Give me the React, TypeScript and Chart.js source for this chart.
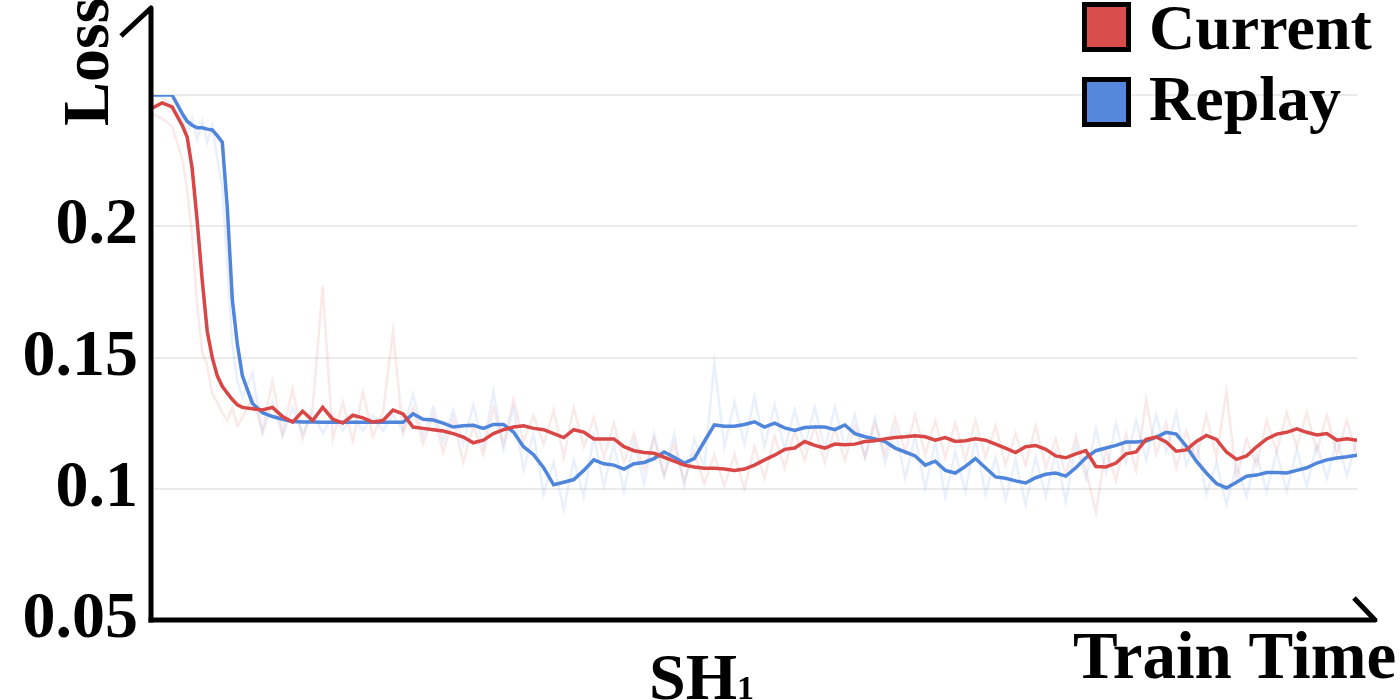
import React, { useEffect, useRef } from 'react';
import { Chart, registerables } from 'chart.js';

Chart.register(...registerables);

// ---- data (training-step index on x, loss on y) ----
const steps = [
  0, 1, 2, 3, 3.5, 4, 4.5, 5, 5.5, 6, 6.5, 7, 7.5, 8, 8.5, 9,
  10, 11, 12, 13, 14, 15, 16, 17, 18, 19,
  20, 21, 22, 23, 24, 25, 26, 27, 28, 29,
  30, 31, 32, 33, 34, 35, 36, 37, 38, 39,
  40, 41, 42, 43, 44, 45, 46, 47, 48, 49,
  50, 51, 52, 53, 54, 55, 56, 57, 58, 59,
  60, 61, 62, 63, 64, 65, 66, 67, 68, 69,
  70, 71, 72, 73, 74, 75, 76, 77, 78, 79,
  80, 81, 82, 83, 84, 85, 86, 87, 88, 89,
  90, 91, 92, 93, 94, 95, 96, 97, 98, 99,
  100, 101, 102, 103, 104, 105, 106, 107, 108, 109,
  110, 111, 112, 113, 114, 115, 116, 117, 118, 119,
  120,
];

const currentSmooth = [
  0.245, 0.247, 0.2455, 0.2385, 0.234, 0.222, 0.202, 0.1795, 0.16, 0.15, 0.143, 0.139, 0.1364, 0.134, 0.132, 0.131,
  0.1305, 0.13, 0.131, 0.1275, 0.1254, 0.1295, 0.126, 0.131, 0.1265, 0.125,
  0.128, 0.127, 0.1254, 0.126, 0.13, 0.1285, 0.1235, 0.123, 0.1225, 0.122,
  0.121, 0.1197, 0.1175, 0.1185, 0.121, 0.1225, 0.1235, 0.124, 0.123, 0.1225,
  0.121, 0.1195, 0.1225, 0.1216, 0.119, 0.119, 0.119, 0.116, 0.1145, 0.1138,
  0.1135, 0.112, 0.1105, 0.109, 0.1083, 0.1078, 0.1078, 0.1075, 0.107, 0.1075,
  0.109, 0.111, 0.1128, 0.115, 0.1155, 0.118, 0.1165, 0.1155, 0.117, 0.1168,
  0.117, 0.118, 0.1183, 0.119, 0.1195, 0.1198, 0.1202, 0.1198, 0.1185, 0.1195,
  0.118, 0.1183, 0.119, 0.1185, 0.117, 0.1155, 0.1138, 0.116, 0.1165, 0.115,
  0.1125, 0.1118, 0.1133, 0.1145, 0.1085, 0.1083, 0.1098, 0.1133, 0.114, 0.1188,
  0.1197, 0.1178, 0.1143, 0.1148, 0.118, 0.1203, 0.1188, 0.114, 0.1112, 0.1125,
  0.116, 0.119, 0.1208, 0.1215, 0.1228, 0.1215, 0.1205, 0.121, 0.1185, 0.119,
  0.1185,
];

const replaySmooth = [
  0.25, 0.25, 0.25, 0.243, 0.24, 0.2385, 0.2375, 0.2375, 0.237, 0.2367, 0.2345, 0.232, 0.207, 0.172, 0.155, 0.143,
  0.1325, 0.129, 0.1275, 0.1265, 0.1256, 0.1254, 0.1254, 0.1253, 0.1253, 0.1253,
  0.1253, 0.1253, 0.1253, 0.1253, 0.1253, 0.1253, 0.1285, 0.1265, 0.1262, 0.125,
  0.1235, 0.124, 0.1242, 0.123, 0.1245, 0.1245, 0.1216, 0.116, 0.113, 0.108,
  0.1015, 0.1025, 0.1035, 0.107, 0.111, 0.1095, 0.109, 0.1075, 0.1095, 0.11,
  0.1115, 0.114, 0.112, 0.1098, 0.1115, 0.118, 0.1243, 0.1238, 0.1238, 0.1245,
  0.1255, 0.1235, 0.125, 0.1232, 0.1222, 0.1233, 0.1235, 0.1235, 0.1225, 0.1243,
  0.121, 0.1198, 0.119, 0.118, 0.1155, 0.114, 0.1125, 0.109, 0.1105, 0.107,
  0.106, 0.1085, 0.1115, 0.108, 0.1045, 0.104, 0.103, 0.1022, 0.1042, 0.1055,
  0.106, 0.1048, 0.108, 0.1118, 0.1145, 0.1155, 0.1165, 0.1178, 0.1178, 0.1182,
  0.1197, 0.1215, 0.1208, 0.1162, 0.1105, 0.106, 0.102, 0.1003, 0.1025, 0.1048,
  0.1052, 0.1062, 0.1062, 0.106, 0.107, 0.108, 0.1098, 0.111, 0.1117, 0.1122,
  0.1128,
];

const currentRaw = [
  0.243, 0.241, 0.238, 0.226, 0.214, 0.196, 0.17, 0.152, 0.147, 0.136, 0.133, 0.129, 0.126, 0.131, 0.124, 0.127,
  0.135, 0.122, 0.141, 0.121, 0.138, 0.119, 0.131, 0.177, 0.119, 0.133,
  0.118, 0.137, 0.12, 0.129, 0.16, 0.121, 0.131, 0.117, 0.128, 0.114,
  0.127, 0.11, 0.124, 0.113, 0.131, 0.117, 0.134, 0.118, 0.128, 0.117,
  0.13, 0.112, 0.131, 0.116, 0.127, 0.112, 0.125, 0.11, 0.121, 0.107,
  0.119, 0.105, 0.117, 0.103, 0.114, 0.102, 0.113, 0.101, 0.113, 0.1,
  0.116, 0.104, 0.12, 0.108, 0.122, 0.111, 0.124, 0.11, 0.123, 0.111,
  0.124, 0.112, 0.125, 0.113, 0.127, 0.114, 0.128, 0.113, 0.126, 0.112,
  0.125, 0.111, 0.126, 0.112, 0.124, 0.109, 0.121, 0.109, 0.124, 0.108,
  0.119, 0.105, 0.12, 0.107, 0.091, 0.115, 0.103, 0.121, 0.107, 0.134,
  0.113, 0.125, 0.108, 0.122, 0.111, 0.128, 0.112, 0.137, 0.104, 0.119,
  0.109, 0.126, 0.114, 0.129, 0.116, 0.129, 0.114, 0.128, 0.113, 0.126,
  0.113,
];

const replayRaw = [
  0.252, 0.249, 0.246, 0.241, 0.236, 0.241, 0.233, 0.24, 0.232, 0.238, 0.226, 0.215, 0.185, 0.155, 0.141, 0.135,
  0.144, 0.121, 0.133, 0.12, 0.131, 0.121, 0.129, 0.121, 0.128, 0.122,
  0.128, 0.122, 0.128, 0.122, 0.128, 0.122, 0.136, 0.12, 0.131, 0.118,
  0.13, 0.117, 0.132, 0.116, 0.137, 0.115, 0.131, 0.107, 0.121, 0.098,
  0.11, 0.092, 0.111, 0.097, 0.12, 0.101, 0.117, 0.099, 0.118, 0.102,
  0.121, 0.105, 0.121, 0.101, 0.119, 0.108, 0.148, 0.116, 0.133, 0.117,
  0.135, 0.116, 0.132, 0.115, 0.13, 0.116, 0.131, 0.115, 0.131, 0.116,
  0.128, 0.112, 0.127, 0.11, 0.123, 0.104, 0.12, 0.1, 0.118, 0.097,
  0.114, 0.099, 0.119, 0.098, 0.112, 0.096, 0.111, 0.094, 0.112, 0.097,
  0.114, 0.095, 0.117, 0.104, 0.123, 0.106, 0.125, 0.11, 0.126, 0.111,
  0.128, 0.114, 0.129, 0.109, 0.118, 0.098, 0.11, 0.094, 0.109, 0.097,
  0.113, 0.099, 0.114, 0.099, 0.115, 0.101, 0.117, 0.104, 0.119, 0.105,
  0.119,
];

const yTickLabels = ['0.05', '0.1', '0.15', '0.2', ''];
const seriesNames = ['Current', 'Replay'];
const xAxisTitle = 'Train Time';
const yAxisTitle = 'Loss';
const panelTitle = 'SH';
const panelSub = '1';

const RED = '#d84646';
const BLUE = '#4f85db';
const RED_FAINT = 'rgba(216,72,72,0.12)';
const BLUE_FAINT = 'rgba(81,134,219,0.12)';
const LEGEND_RED = '#d94d4d';
const LEGEND_BLUE = '#5588dd';
const FONT = '"Liberation Serif", "Times New Roman", serif';

export default function App() {
  const ref = useRef<HTMLCanvasElement>(null);

  useEffect(() => {
    if (!ref.current) return;
    const pts = (arr: number[]) => steps.map((s, i) => ({ x: s, y: arr[i] }));

    const overlay = {
      id: 'overlay',
      afterDraw(chart: any) {
        const ctx = chart.ctx as CanvasRenderingContext2D;
        const a = chart.chartArea;
        ctx.save();
        // axes with arrow barbs
        ctx.strokeStyle = '#000';
        ctx.lineWidth = 5;
        ctx.lineJoin = 'round';
        ctx.lineCap = 'butt';
        ctx.beginPath();
        ctx.moveTo(121, 36);
        ctx.lineTo(a.left - 1, 8);
        ctx.lineTo(a.left - 1, a.bottom + 2.5);
        ctx.stroke();
        ctx.beginPath();
        ctx.moveTo(a.left - 3.5, a.bottom);
        ctx.lineTo(1375, a.bottom);
        ctx.lineTo(1354, a.bottom - 22);
        ctx.stroke();

        ctx.fillStyle = '#000';
        ctx.textBaseline = 'alphabetic';
        ctx.textAlign = 'left';
        // x axis title
        ctx.font = `bold 67px ${FONT}`;
        ctx.fillText(xAxisTitle, 1073, 678);
        // panel label SH1
        ctx.font = `bold 66px ${FONT}`;
        ctx.fillText(panelTitle, 649, 699);
        const w = ctx.measureText(panelTitle).width;
        ctx.font = `bold 34px ${FONT}`;
        ctx.fillText(panelSub, 649 + w, 699);
        // y axis title
        ctx.save();
        ctx.font = `bold 66px ${FONT}`;
        ctx.translate(108, 126);
        ctx.rotate(-Math.PI / 2);
        ctx.fillText(yAxisTitle, 0, 0);
        ctx.restore();

        // legend
        const boxes = [
          { c: LEGEND_RED, y: 4.5, ty: 49, t: seriesNames[0] },
          { c: LEGEND_BLUE, y: 79.5, ty: 120, t: seriesNames[1] },
        ];
        ctx.font = `bold 64px ${FONT}`;
        for (const b of boxes) {
          ctx.fillStyle = b.c;
          ctx.fillRect(1084.5, b.y, 44, 45);
          ctx.lineWidth = 5;
          ctx.lineJoin = 'miter';
          ctx.strokeStyle = '#000';
          ctx.strokeRect(1084.5, b.y, 44, 45);
          ctx.fillStyle = '#000';
          ctx.fillText(b.t, 1149, b.ty);
        }
        ctx.restore();
      },
    };

    const chart = new Chart(ref.current, {
      type: 'line',
      data: {
        datasets: [
          { label: seriesNames[0], data: pts(currentSmooth), borderColor: RED, borderWidth: 3.5 },
          { label: seriesNames[1], data: pts(replaySmooth), borderColor: BLUE, borderWidth: 3.5 },
          { label: seriesNames[0] + ' raw', data: pts(currentRaw), borderColor: RED_FAINT, borderWidth: 2.5 },
          { label: seriesNames[1] + ' raw', data: pts(replayRaw), borderColor: BLUE_FAINT, borderWidth: 2.5 },
        ],
      },
      options: {
        responsive: false,
        maintainAspectRatio: false,
        animation: false,
        devicePixelRatio: 1,
        layout: { padding: { top: 95, bottom: 80, right: 43, left: 0 } },
        elements: { point: { radius: 0 }, line: { tension: 0 } },
        plugins: { legend: { display: false }, tooltip: { enabled: false } },
        scales: {
          x: { type: 'linear', min: 0, max: 120, display: false },
          y: {
            min: 0.05,
            max: 0.25,
            afterFit: (scale: any) => {
              scale.width = 152;
            },
            border: { display: false },
            grid: { color: '#ebebeb', lineWidth: 2, drawTicks: false },
            ticks: {
              stepSize: 0.05,
              padding: 14,
              color: '#000',
              font: { family: FONT, size: 66, weight: 'bold' },
              callback: (_v: any, i: number) => yTickLabels[i] ?? '',
            },
          },
        },
      } as any,
      plugins: [overlay],
    });
    return () => chart.destroy();
  }, []);

  return (
    <div style={{ position: 'fixed', left: 0, top: 0, width: 1400, height: 700, background: '#fff' }}>
      <canvas ref={ref} width={1400} height={700} style={{ display: 'block' }} />
    </div>
  );
}
